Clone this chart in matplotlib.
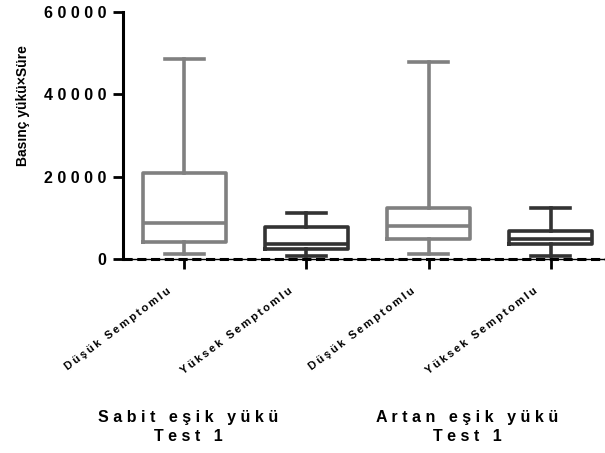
import matplotlib
matplotlib.use("Agg")
import matplotlib.pyplot as plt
import numpy as np

plt.rcParams.update({
    "font.family": ["Liberation Sans", "DejaVu Sans"],
    "font.weight": "bold",
})

categories = ["Düşük Semptomlu", "Yüksek Semptomlu", "Düşük Semptomlu", "Yüksek Semptomlu"]
groups = ["Sabit eşik yükü\nTest 1", "Artan eşik yükü\nTest 1"]

whisker_lo = [1150, 750, 1150, 750]
q1 = [4200, 2400, 4800, 3650]
median = [8800, 3650, 8000, 4800]
q3 = [20900, 7850, 12450, 6900]
whisker_hi = [48600, 11250, 47900, 12450]

colors = ["#808080", "#333333", "#808080", "#333333"]


def spaced(s, sep="\u2009"):
    return "\n".join(sep.join(line) for line in s.split("\n"))


fig = plt.figure(figsize=(6.05, 4.53), dpi=100)
ax = fig.add_axes([123 / 605, 1 - 259 / 453, (612 - 123) / 605, (259 - 12) / 453])

stats = []
for i in range(len(categories)):
    stats.append({"med": median[i], "q1": q1[i], "q3": q3[i],
                  "whislo": whisker_lo[i], "whishi": whisker_hi[i], "fliers": []})

pos = np.arange(len(categories))
bp = ax.bxp(stats, positions=pos, widths=0.68, showfliers=False, patch_artist=False,
            capwidths=0.32)
for i in range(len(categories)):
    c = colors[i]
    bp["boxes"][i].set(color=c, linewidth=2.6)
    bp["medians"][i].set(color=c, linewidth=2.6)
    for k in (2 * i, 2 * i + 1):
        bp["whiskers"][k].set(color=c, linewidth=2.6)
        bp["caps"][k].set(color=c, linewidth=2.6)

ax.set_xlim(-0.5, 3.5)
ax.set_ylim(0, 60000)
ax.set_yticks([0, 20000, 40000, 60000])
ax.set_yticklabels([spaced(str(v), " ") for v in [0, 20000, 40000, 60000]],
                   fontsize=11.5, fontweight="bold")
ax.tick_params(axis="y", length=7, width=2, pad=5)
ax.tick_params(axis="x", length=7, width=2, pad=3)

ax.spines["top"].set_visible(False)
ax.spines["right"].set_visible(False)
ax.spines["left"].set_linewidth(2.2)
ax.spines["bottom"].set_linewidth(1.0)
ax.axhline(0, color="black", linewidth=2.2, linestyle=(0, (3, 1.5)), zorder=3,
           clip_on=False)

ax.set_xticks(pos)
ax.set_xticklabels([spaced(c) for c in categories], rotation=37, ha="right",
                   rotation_mode="anchor", fontsize=8, fontweight="bold")
for lbl in ax.get_xticklabels():
    lbl.set_transform(lbl.get_transform() + matplotlib.transforms.ScaledTranslation(
        -18 / 100, -13 / 100, fig.dpi_scale_trans))

fig.text(23 / 605, 1 - 106 / 453, "Basınç yükü×Süre", rotation=90,
         ha="center", va="center", fontsize=10, fontweight="bold")

for gx, g in zip([188, 467], groups):
    fig.text(gx / 605, 1 - 427 / 453, spaced(g, " "), ha="center", va="center",
             fontsize=11.5, fontweight="bold", linespacing=1.4)

fig.savefig("out.png", dpi=100)
